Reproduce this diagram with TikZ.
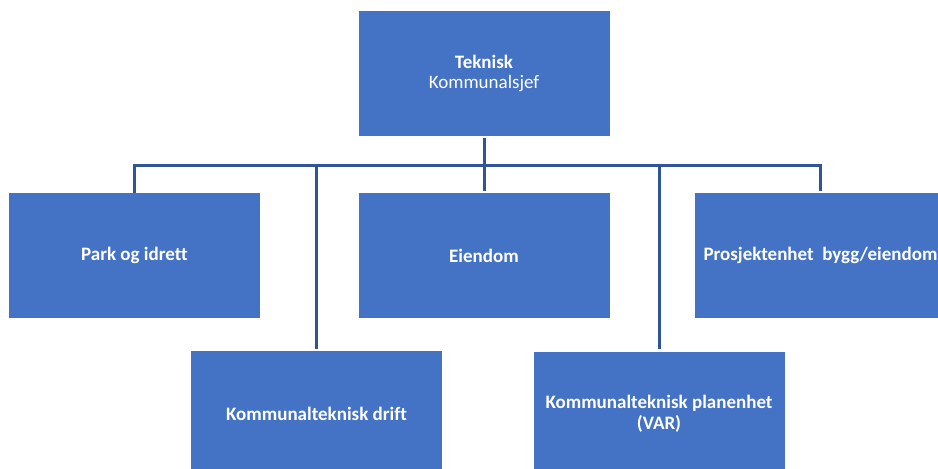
\documentclass[tikz,border=0pt]{standalone}
\usepackage{fontspec}
\setmainfont{Carlito}[Ligatures=NoCommon]
\usetikzlibrary{positioning}
\definecolor{boxblue}{HTML}{4472C4}
\definecolor{linkblue}{HTML}{2F5597}
\tikzset{
	unit/.style={rectangle, fill=boxblue, text=white, minimum width=251pt, minimum height=125pt, inner sep=0pt, align=center, font=\fontsize{19}{20.5}\selectfont\bfseries},
	link/.style={draw=linkblue, line width=3pt, shorten >=2pt}
}
\begin{document}
\begin{tikzpicture}[x=1pt, y=-1pt]
		
		\useasboundingbox (0,0) rectangle (938,469);
		\clip (0,0) rectangle (938,469);
		
		\node[unit] (sjef) at (484,73.5) {Teknisk\\\mdseries Kommunalsjef};
		\node[unit] (park) at (134.5,255.5) {Park og idrett};
		\node[unit] (eiendom) at (484,255.5) {Eiendom};
		\node[unit] (prosjekt) at (820.5,255.5) {Prosjektenhet\ \ bygg/eiendom};
		\node[unit] (drift) at (316.5,413.5) {Kommunalteknisk drift};
		\node[unit] (plan) at (659,414) {Kommunalteknisk planenhet\\(VAR)};
		
		\coordinate (bus) at (484,165);
		
		\draw[link, shorten <=2pt] (sjef.south) -- (eiendom.north);
		\draw[link] (park.north) -- (park.north |- bus) -- (prosjekt.north |- bus) -- (prosjekt.north);
		\draw[link] (drift.north |- bus) -- (drift.north);
		\draw[link] (plan.north |- bus) -- (plan.north);
		
	\end{tikzpicture}
\end{document}
